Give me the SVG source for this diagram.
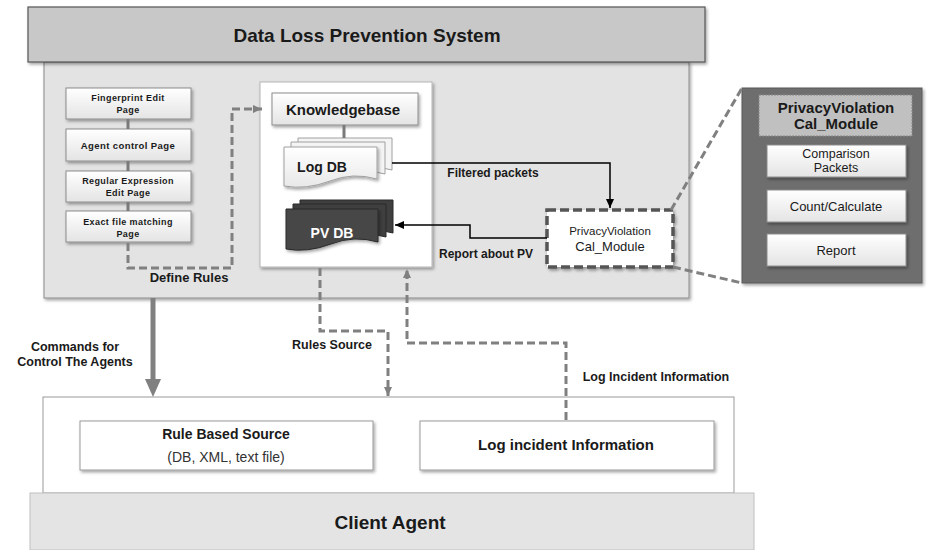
<svg xmlns="http://www.w3.org/2000/svg" width="927" height="550" viewBox="0 0 927 550">
<style>
.t{font-family:"Liberation Sans",Arial,sans-serif;fill:#1a1a1a;text-anchor:middle}
.b{font-weight:bold}
.pg{fill:url(#pgG);stroke:#8c8c8c;stroke-width:1;filter:url(#sh)}
.wb{fill:#ffffff;stroke:#9a9a9a;stroke-width:1;filter:url(#sh)}
.dash{fill:none;stroke:#808080;stroke-width:3;stroke-dasharray:8 4}
.link{fill:none;stroke:#7a7a7a;stroke-width:3}
.blk{fill:none;stroke:#000;stroke-width:1.5}
</style>
<defs>
<filter id="sh" x="-10%" y="-10%" width="130%" height="140%">
<feDropShadow dx="1.5" dy="2" stdDeviation="1.5" flood-color="#000" flood-opacity="0.35"/>
</filter>
<linearGradient id="pgG" x1="0" y1="0" x2="0" y2="1">
<stop offset="0" stop-color="#ffffff"/><stop offset="1" stop-color="#e4e4e4"/>
</linearGradient>
<linearGradient id="logG" x1="0" y1="0" x2="0" y2="1">
<stop offset="0" stop-color="#ffffff"/><stop offset="1" stop-color="#e8e8e8"/>
</linearGradient>
<marker id="ab" markerWidth="10" markerHeight="10" refX="9" refY="5" orient="auto" markerUnits="userSpaceOnUse">
<path d="M0,1 L9,5 L0,9 Z" fill="#000"/>
</marker>
<marker id="ag" markerWidth="10" markerHeight="10" refX="9" refY="5" orient="auto" markerUnits="userSpaceOnUse">
<path d="M0,1 L9,5 L0,9 Z" fill="#808080"/>
</marker>
</defs>

<rect width="927" height="550" fill="#ffffff"/>

<g id="dlp-system">
<rect x="44" y="62" width="645" height="236" fill="#e3e3e3" stroke="#8a8a8a" stroke-width="1" filter="url(#sh)"/>
<rect x="28" y="7" width="677" height="55" fill="#c8c8c8" stroke="#555" stroke-width="1.2" filter="url(#sh)"/>
<text class="t b" x="367" y="42" font-size="19">Data Loss Prevention System</text>
</g>

<g id="page-fingerprint">
<rect class="pg" x="66" y="88" width="125" height="31"/>
<text class="t b" x="128" y="101" font-size="9" letter-spacing="0.4">Fingerprint Edit</text>
<text class="t b" x="128" y="113" font-size="9" letter-spacing="0.4">Page</text>
</g>
<g id="page-agent">
<rect class="pg" x="66" y="129" width="125" height="32"/>
<text class="t b" x="128" y="149" font-size="9.5" letter-spacing="0.4">Agent control Page</text>
</g>
<g id="page-regex">
<rect class="pg" x="66" y="171" width="125" height="31"/>
<text class="t b" x="128" y="184" font-size="9" letter-spacing="0.4">Regular Expression</text>
<text class="t b" x="128" y="196" font-size="9" letter-spacing="0.4">Edit Page</text>
</g>
<g id="page-exact">
<rect class="pg" x="66" y="211" width="125" height="31"/>
<text class="t b" x="128" y="225" font-size="9" letter-spacing="0.4">Exact file matching</text>
<text class="t b" x="128" y="237" font-size="9" letter-spacing="0.4">Page</text>
</g>

<g id="kb-panel">
<rect x="260" y="82" width="172" height="185" fill="#ffffff" stroke="#b5b5b5" stroke-width="1" filter="url(#sh)"/>
</g>
<g id="knowledgebase">
<rect class="pg" x="272" y="93" width="146" height="32"/>
<text class="t b" x="343" y="115" font-size="15">Knowledgebase</text>
</g>
<g id="log-db">
<path d="M298,138 H392 V170 Q368,163 345,172 Q321,181 298,177 Z" fill="#f4f4f4" stroke="#a0a0a0" stroke-width="1"/>
<path d="M291,142 H385 V174 Q361,167 338,176 Q314,185 291,181 Z" fill="#f4f4f4" stroke="#a0a0a0" stroke-width="1"/>
<path d="M284,147 H377 V179 Q353,172 330,181 Q306,190 284,186 Z" fill="url(#logG)" stroke="#a0a0a0" stroke-width="1" filter="url(#sh)"/>
<text class="t b" x="322" y="172" font-size="14">Log DB</text>
</g>
<g id="pv-db">
<path d="M300,200 H393 V233 Q369,226 346,235 Q322,244 300,240 Z" fill="#3f3f3f" stroke="#2a2a2a" stroke-width="1"/>
<path d="M293,204 H386 V237 Q362,230 339,239 Q315,248 293,244 Z" fill="#3f3f3f" stroke="#2a2a2a" stroke-width="1"/>
<path d="M286,209 H378 V242 Q354,235 331,244 Q307,253 286,249 Z" fill="#474747" stroke="#2a2a2a" stroke-width="1" filter="url(#sh)"/>
<text class="t b" x="332" y="238" font-size="14" style="fill:#ffffff">PV DB</text>
</g>

<g id="pv-module">
<rect x="547" y="210" width="126" height="57" fill="#ffffff" stroke="#555" stroke-width="3.5" stroke-dasharray="9 4" filter="url(#sh)"/>
<text class="t" x="610" y="235" font-size="11.5">PrivacyViolation</text>
<text class="t" x="610" y="251" font-size="13">Cal_Module</text>
</g>

<g id="pv-detail">
<rect x="742" y="88" width="180" height="195" fill="#6e6e6e" stroke="#5a5a5a" stroke-width="1" filter="url(#sh)"/>
<rect x="759" y="95" width="153" height="41" fill="#c0c0c0" stroke="#8a8a8a" stroke-width="1" stroke-dasharray="2 1"/>
<text class="t b" x="836" y="113" font-size="15">PrivacyViolation</text>
<text class="t b" x="836" y="129" font-size="15">Cal_Module</text>
<rect class="pg" x="767" y="145" width="139" height="32"/>
<text class="t" x="836" y="158" font-size="12.5">Comparison</text>
<text class="t" x="836" y="172" font-size="12.5">Packets</text>
<rect class="pg" x="767" y="190" width="139" height="32"/>
<text class="t" x="836" y="211" font-size="13">Count/Calculate</text>
<rect class="pg" x="767" y="234" width="139" height="32"/>
<text class="t" x="836" y="255" font-size="13">Report</text>
</g>

<g id="client-agent">
<rect x="43" y="397" width="691" height="96" fill="#ffffff" stroke="#999" stroke-width="1"/>
<rect x="30" y="493" width="724" height="57" fill="#e4e4e4" stroke="#c0c0c0" stroke-width="1"/>
<text class="t b" x="390" y="529" font-size="19">Client Agent</text>
</g>
<g id="rule-source">
<rect x="80" y="421" width="293" height="49" fill="#ffffff" stroke="#999" stroke-width="1" filter="url(#sh)"/>
<text class="t b" x="226" y="439" font-size="14">Rule Based Source</text>
<text class="t" x="226" y="462" font-size="14" style="fill:#333">(DB, XML, text file)</text>
</g>
<g id="log-incident">
<rect x="420" y="421" width="294" height="49" fill="#ffffff" stroke="#999" stroke-width="1" filter="url(#sh)"/>
<text class="t b" x="566" y="450" font-size="15">Log incident Information</text>
</g>

<g id="connectors">
<path class="link" d="M128,119 V129 M128,161 V171 M128,202 V211 M344,125 V138"/>
<path class="dash" d="M128,243 V268 H232 V109 H262" marker-end="url(#ag)"/>
<text class="t b" x="189" y="282" font-size="13">Define Rules</text>
<path class="blk" d="M392,163 H610 V208" marker-end="url(#ab)"/>
<text class="t b" x="493" y="177" font-size="12">Filtered packets</text>
<path class="blk" d="M547,238 H470 V225 H395" marker-end="url(#ab)"/>
<text class="t b" x="486" y="258" font-size="12">Report about PV</text>
<path class="dash" d="M671,210 L742,88"/>
<path class="dash" d="M673,267 L742,283"/>
<path d="M153,298 V380" stroke="#808080" stroke-width="5" fill="none"/>
<path d="M145,379 L161,379 L153,397 Z" fill="#808080"/>
<text class="t b" x="75" y="351" font-size="12.5">Commands for</text>
<text class="t b" x="75" y="366" font-size="12.5">Control The Agents</text>
<path class="dash" d="M320,268 V331 H388 V396" marker-end="url(#ag)"/>
<text class="t b" x="332" y="349" font-size="12.5">Rules Source</text>
<path class="dash" d="M566,420 V343 H407 V269" marker-end="url(#ag)"/>
<text class="t b" x="656" y="381" font-size="12.5">Log Incident Information</text>
</g>
</svg>
